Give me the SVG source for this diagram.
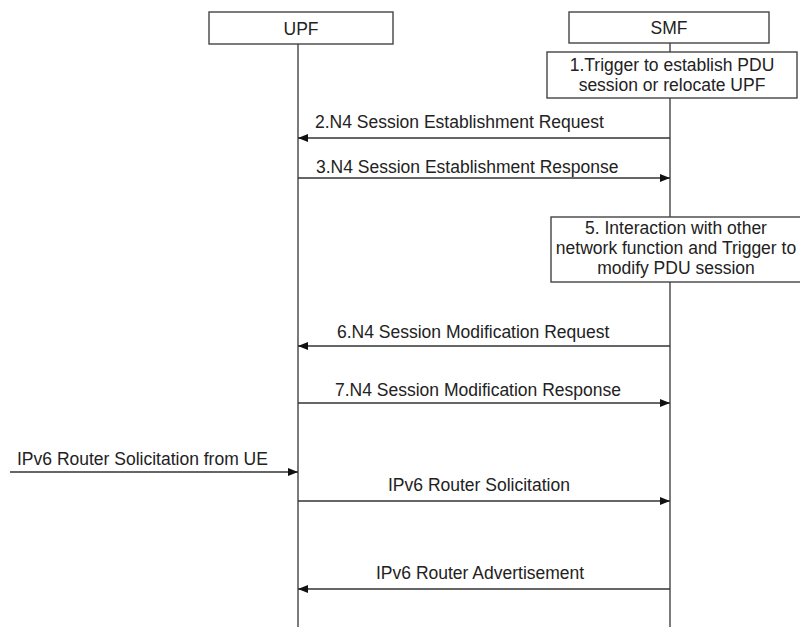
<svg xmlns="http://www.w3.org/2000/svg" width="800" height="627" viewBox="0 0 800 627">
<style>
.box{fill:#fff;stroke:#444;stroke-width:1.4}
.life{stroke:#444;stroke-width:1.4;fill:none}
.msg{stroke:#333;stroke-width:1.4;fill:none}
text{font-family:"Liberation Sans",Arial,sans-serif;font-size:17.5px;fill:#222}
.c{text-anchor:middle}
</style>
<defs>
<marker id="ah" viewBox="0 0 10 8" refX="10" refY="4" markerWidth="10" markerHeight="8" markerUnits="userSpaceOnUse" orient="auto">
<path d="M0,0 L10,4 L0,8 Z" fill="#111"/>
</marker>
</defs>
<g id="lifelines">
<line class="life" x1="298" y1="44" x2="298" y2="627"/>
<line class="life" x1="670" y1="43" x2="670" y2="627"/>
</g>
<g id="UPF">
<rect class="box" x="209" y="12" width="184" height="32"/>
<text class="c" x="301" y="35">UPF</text>
</g>
<g id="SMF">
<rect class="box" x="569" y="12" width="200" height="31"/>
<text class="c" x="669" y="34">SMF</text>
</g>
<g id="step1">
<rect class="box" x="547" y="52" width="250" height="46"/>
<text class="c" x="672" y="71">1.Trigger to establish PDU</text>
<text class="c" x="672" y="91">session or relocate UPF</text>
</g>
<g id="step5">
<rect class="box" x="551" y="217" width="252" height="65"/>
<text class="c" x="676" y="234">5. Interaction with other</text>
<text class="c" x="676" y="254">network function and Trigger to</text>
<text class="c" x="676" y="274">modify PDU session</text>
</g>
<g id="connectors">
<line class="msg" x1="670" y1="138" x2="298" y2="138" marker-end="url(#ah)"/>
<line class="msg" x1="298" y1="178" x2="670" y2="178" marker-end="url(#ah)"/>
<line class="msg" x1="670" y1="346" x2="298" y2="346" marker-end="url(#ah)"/>
<line class="msg" x1="298" y1="403" x2="670" y2="403" marker-end="url(#ah)"/>
<line class="msg" x1="10" y1="472" x2="298" y2="472" marker-end="url(#ah)"/>
<line class="msg" x1="298" y1="501" x2="670" y2="501" marker-end="url(#ah)"/>
<line class="msg" x1="670" y1="589" x2="298" y2="589" marker-end="url(#ah)"/>
</g>
<g id="labels">
<text x="315" y="128">2.N4 Session Establishment Request</text>
<text x="316" y="173">3.N4 Session Establishment Response</text>
<text x="337" y="338">6.N4 Session Modification Request</text>
<text x="335" y="396">7.N4 Session Modification Response</text>
<text x="17" y="465">IPv6 Router Solicitation from UE</text>
<text x="388" y="491">IPv6 Router Solicitation</text>
<text x="376" y="579">IPv6 Router Advertisement</text>
</g>
</svg>
